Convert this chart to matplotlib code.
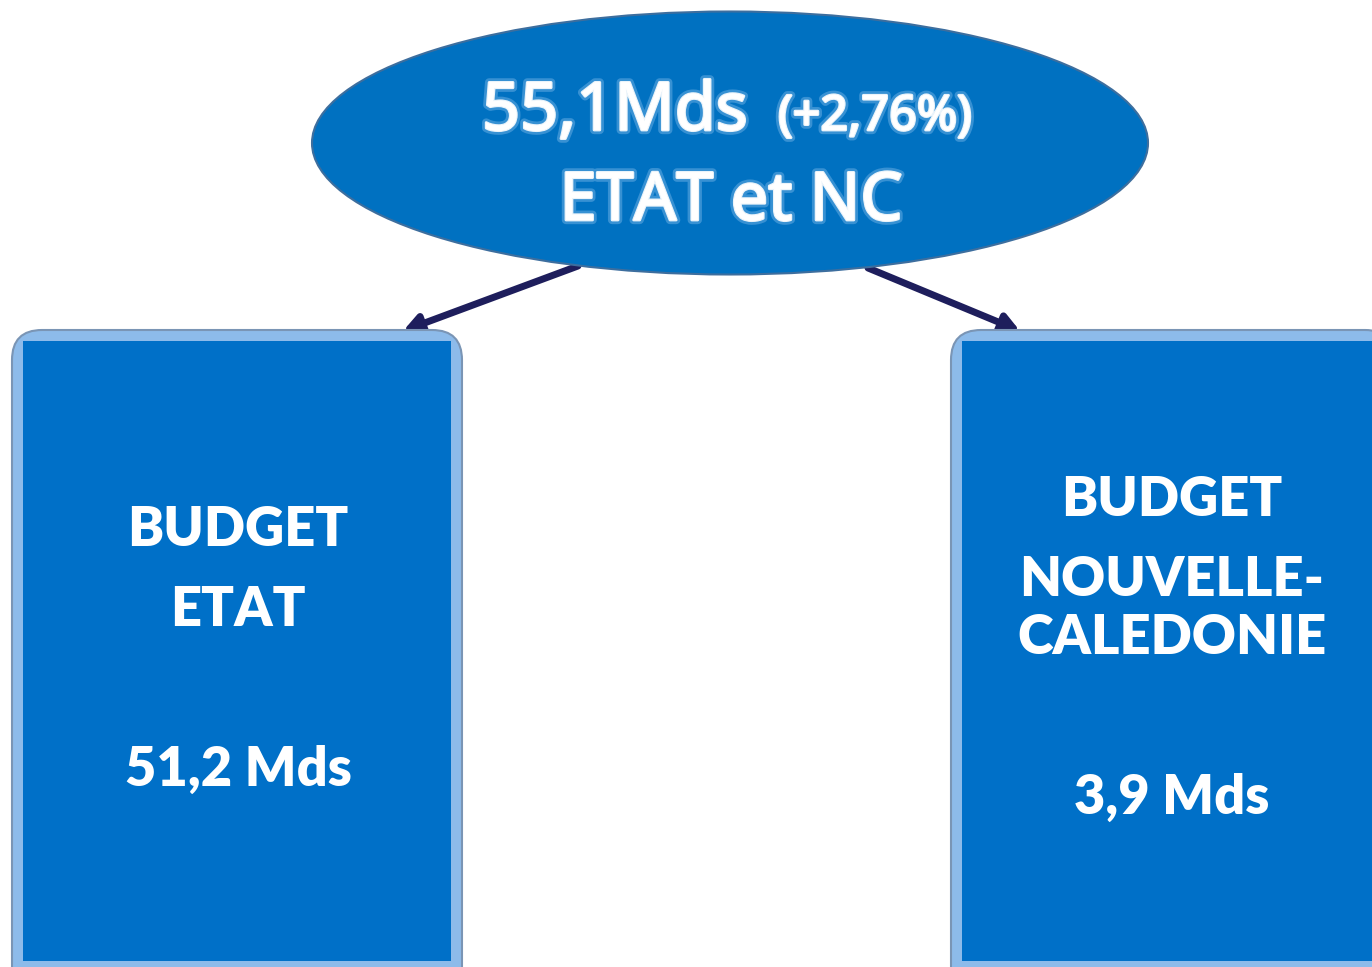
import matplotlib
matplotlib.use("Agg")
import matplotlib.pyplot as plt
from matplotlib.patches import Ellipse, FancyBboxPatch, Rectangle
import matplotlib.patheffects as pe

# ---- data ----
total_value = 55.1
total_growth = 2.76
total_label = "ETAT et NC"
box_titles = [["BUDGET", "ETAT"], ["BUDGET", "NOUVELLE-", "CALEDONIE"]]
box_values = [51.2, 3.9]

def fr(v, nd=1):
    return f"{v:.{nd}f}".replace(".", ",")

humanist = ["Noto Sans", "DejaVu Sans"]
boldfam = ["Lato", "DejaVu Sans"]

W, H = 1372, 967
fig = plt.figure(figsize=(W / 100, H / 100), dpi=100)
ax = fig.add_axes([0, 0, 1, 1])
ax.set_xlim(0, W)
ax.set_ylim(H, 0)
ax.axis("off")

blue = "#0070C8"
light = "#8DBBEA"
navy = "#1E1E5C"

# ---- ellipse ----
ell = Ellipse((730, 143), 836, 263, facecolor="#0071C1", edgecolor="#3D6E9E", lw=1.5, zorder=3)
ax.add_patch(ell)

glow = [pe.withStroke(linewidth=6, foreground="#9fcdf5", alpha=0.35),
        pe.withStroke(linewidth=2, foreground="white", alpha=0.9)]
ax.text(482, 130, f"{fr(total_value)}Mds", color="white", fontsize=48, family=humanist,
        ha="left", va="baseline", zorder=5, path_effects=glow)
ax.text(778, 130, f"(+{fr(total_growth, 2)}%)", color="white", fontsize=35, family=humanist,
        ha="left", va="baseline", zorder=5, path_effects=glow)
ax.text(731, 220, total_label, color="white", fontsize=48, family=humanist,
        ha="center", va="baseline", zorder=5, path_effects=glow)

# ---- arrows ----
arrows = [((578, 266), (403, 331)), ((868, 268), (1020, 331))]
for (x0, y0), (x1, y1) in arrows:
    ax.annotate("", xy=(x1, y1), xytext=(x0, y0),
                arrowprops=dict(arrowstyle="-|>,head_length=1.0,head_width=0.55",
                                color=navy, lw=5, shrinkA=0, shrinkB=0), zorder=2)

# ---- boxes ----
boxes = [(12, 462), (951, 1395)]
centers = [238, 1172]
for i, (xa, xb) in enumerate(boxes):
    outer = FancyBboxPatch((xa + 30, 330 + 30), xb - xa - 60, 640,
                           boxstyle="round,pad=30,rounding_size=30", facecolor=light,
                           edgecolor="#7A95B5", lw=1.5, zorder=2)
    ax.add_patch(outer)
    inner = Rectangle((xa + 11, 341), xb - xa - 22, 620, facecolor=blue, edgecolor="none", zorder=3)
    ax.add_patch(inner)

fs = 39
line_y = [[530, 610], [500, 580, 638]]
value_y = [770, 798]
for i in range(2):
    for t, y in zip(box_titles[i], line_y[i]):
        ax.text(centers[i], y, t, color="white", fontsize=fs, fontweight="heavy",
                family=boldfam, ha="center", va="center", zorder=5)
    ax.text(centers[i], value_y[i], f"{fr(box_values[i])} Mds", color="white", fontsize=fs,
            fontweight="heavy", family=boldfam, ha="center", va="center", zorder=5)

fig.savefig("out.png", dpi=100, facecolor="white")
